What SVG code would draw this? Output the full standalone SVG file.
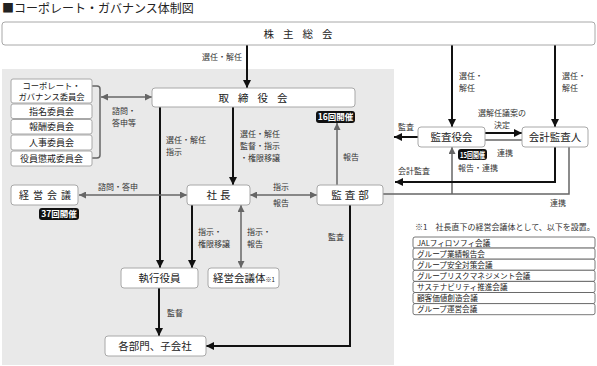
<svg xmlns="http://www.w3.org/2000/svg" width="597" height="366" viewBox="0 0 597 366">
<style>
text{font-family:"Noto Sans CJK JP","Noto Sans",sans-serif;fill:#222}
.box{fill:#fff;stroke:#a8a8a8;stroke-width:1}
.bt{font-size:10.5px;text-anchor:middle}
.ct{font-size:9px;text-anchor:middle}
.lb{font-size:8px;fill:#333}
.bk{fill:none;stroke:#111;stroke-width:2}
.gr{fill:none;stroke:#666;stroke-width:1.5}
.badge{fill:#111}
.bdt{font-size:8.5px;fill:#fff;font-weight:bold;text-anchor:middle}
.row{fill:#fff;stroke:#555;stroke-width:0.8}
.rt{font-size:7.6px;fill:#222}
</style>
<defs>
<marker id="ab" viewBox="0 0 10 10" refX="10" refY="5" markerWidth="8" markerHeight="8" markerUnits="userSpaceOnUse" orient="auto-start-reverse"><path d="M0,0 L10,5 L0,10 z" fill="#111"/></marker>
<marker id="ag" viewBox="0 0 10 10" refX="10" refY="5" markerWidth="7" markerHeight="7" markerUnits="userSpaceOnUse" orient="auto-start-reverse"><path d="M0,0 L10,5 L0,10 z" fill="#666"/></marker>
</defs>
<rect width="597" height="366" fill="#fff"/>
<text x="2" y="13" style="font-size:12px">■コーポレート・ガバナンス体制図</text>
<rect x="2" y="69" width="392" height="296" fill="#e9e9e9"/>

<g id="connectors">
<path class="bk" d="M247,45 V88" marker-end="url(#ab)"/>
<path class="bk" d="M452,45 V127" marker-end="url(#ab)"/>
<path class="bk" d="M555,45 V127" marker-end="url(#ab)"/>
<path class="gr" d="M92,86 H97 Q100,86 100,89 V155 Q100,158 97,158 H92"/>
<path class="gr" d="M101,97 H152" marker-start="url(#ag)" marker-end="url(#ag)"/>
<path class="bk" d="M160,107 V268" marker-end="url(#ab)"/>
<path class="bk" d="M233,107 V185" marker-end="url(#ab)"/>
<path class="gr" d="M337,185 V123" marker-end="url(#ag)"/>
<path class="gr" d="M79,195 H187" marker-start="url(#ag)" marker-end="url(#ag)"/>
<path class="gr" d="M250,195 H317" marker-start="url(#ag)" marker-end="url(#ag)"/>
<path class="bk" d="M192,205 V268" marker-end="url(#ab)"/>
<path class="gr" d="M241,205 V268" marker-start="url(#ag)" marker-end="url(#ag)"/>
<path class="bk" d="M350,205 V346 H206" marker-end="url(#ab)"/>
<path class="bk" d="M159,288 V336" marker-end="url(#ab)"/>
<path class="bk" d="M418,137 H394" marker-end="url(#ab)"/>
<path class="bk" d="M485,133 H522" marker-end="url(#ab)"/>
<path class="gr" d="M485,140 H522"/>
<path class="gr" d="M383,194 H569 V147"/>
<path class="gr" d="M452,194 V147" marker-end="url(#ag)"/>
<path class="bk" d="M555,147 V182 H395" marker-end="url(#ab)"/>
</g>

<g id="labels">
<text class="lb" x="242" y="60" text-anchor="end">選任・解任</text>
<text class="lb" x="459" y="79">選任・</text>
<text class="lb" x="459" y="91">解任</text>
<text class="lb" x="562" y="79">選任・</text>
<text class="lb" x="562" y="91">解任</text>
<text class="lb" x="112" y="114">諮問・</text>
<text class="lb" x="112" y="126">答申等</text>
<text class="lb" x="166" y="143">選任・解任</text>
<text class="lb" x="166" y="155">指示</text>
<text class="lb" x="240" y="137">選任・解任</text>
<text class="lb" x="240" y="149">監督・指示</text>
<text class="lb" x="240" y="161">・権限移譲</text>
<text class="lb" x="343" y="160">報告</text>
<text class="lb" x="98" y="190">諮問・答申</text>
<text class="lb" x="273" y="190">指示</text>
<text class="lb" x="273" y="206">報告</text>
<text class="lb" x="198" y="235">指示・</text>
<text class="lb" x="198" y="247">権限移譲</text>
<text class="lb" x="247" y="235">指示・</text>
<text class="lb" x="247" y="247">報告</text>
<text class="lb" x="328" y="240">監査</text>
<text class="lb" x="167" y="316">監督</text>
<text class="lb" x="398" y="130">監査</text>
<text class="lb" x="502" y="116" text-anchor="middle">選解任議案の</text>
<text class="lb" x="502" y="128" text-anchor="middle">決定</text>
<text class="lb" x="497" y="156">連携</text>
<text class="lb" x="458" y="171">報告・連携</text>
<text class="lb" x="398" y="174">会計監査</text>
<text class="lb" x="550" y="206">連携</text>
</g>

<g id="shareholders"><rect class="box" x="2" y="22" width="593" height="23" rx="3"/><text class="bt" x="302.5" y="38" style="letter-spacing:9px">株主総会</text></g>
<g id="cgc"><rect class="box" x="11" y="79" width="81" height="24" rx="2"/><text class="ct" x="51.5" y="89" style="font-size:8.3px">コーポレート・</text><text class="ct" x="51.5" y="100" style="font-size:8.3px">ガバナンス委員会</text></g>
<g id="nomination"><rect class="box" x="11" y="104" width="81" height="14.5" rx="2"/><text class="ct" x="51.5" y="114.5">指名委員会</text></g>
<g id="remuneration"><rect class="box" x="11" y="119.5" width="81" height="14.5" rx="2"/><text class="ct" x="51.5" y="130">報酬委員会</text></g>
<g id="personnel"><rect class="box" x="11" y="135" width="81" height="15" rx="2"/><text class="ct" x="51.5" y="145.8">人事委員会</text></g>
<g id="discipline"><rect class="box" x="11" y="151" width="81" height="15" rx="2"/><text class="ct" x="51.5" y="161.8">役員懲戒委員会</text></g>
<g id="board"><rect class="box" x="152" y="88" width="203" height="19" rx="3"/><text class="bt" x="257.5" y="101.5" style="letter-spacing:9px">取締役会</text></g>
<g id="badge16"><rect class="badge" x="316" y="111" width="39" height="12" rx="3"/><text class="bdt" x="335.5" y="120.2">16回開催</text></g>
<g id="president"><rect class="box" x="187" y="185" width="63" height="20" rx="3"/><text class="bt" x="220" y="199" style="letter-spacing:3px">社長</text></g>
<g id="audit-dept"><rect class="box" x="317" y="185" width="66" height="20" rx="3"/><text class="bt" x="351.5" y="199" style="letter-spacing:3px">監査部</text></g>
<g id="mgmt-council"><rect class="box" x="11" y="185" width="67" height="20" rx="3"/><text class="bt" x="47" y="199" style="font-size:10px;letter-spacing:4px">経営会議</text></g>
<g id="badge37"><rect class="badge" x="39" y="208" width="40" height="12" rx="3"/><text class="bdt" x="59" y="217.2">37回開催</text></g>
<g id="exec-officers"><rect class="box" x="121" y="268" width="77" height="20" rx="3"/><text class="bt" x="159.5" y="282">執行役員</text></g>
<g id="mgmt-bodies"><rect class="box" x="208" y="268" width="71" height="20" rx="3"/><text x="213" y="282" style="font-size:10.5px">経営会議体<tspan style="font-size:6px">※1</tspan></text></g>
<g id="divisions"><rect class="box" x="105" y="336" width="101" height="20" rx="3"/><text class="bt" x="155" y="350">各部門、子会社</text></g>
<g id="asb"><rect class="box" x="418" y="127" width="67" height="20" rx="3"/><text class="bt" x="451.5" y="141">監査役会</text></g>
<g id="badge15"><rect class="badge" x="458" y="149" width="29" height="11" rx="3"/><text class="bdt" x="472.5" y="157.6" style="font-size:7.5px" textLength="25" lengthAdjust="spacingAndGlyphs">15回開催</text></g>
<g id="accounting-auditor"><rect class="box" x="522" y="127" width="66" height="20" rx="3"/><text class="bt" x="555" y="141">会計監査人</text></g>

<g id="note">
<text x="415" y="230" style="font-size:8px;fill:#333">※1　社長直下の経営会議体として、以下を設置。</text>
<rect class="row" x="413" y="237" width="182" height="11.1" rx="2"/>
<rect class="row" x="413" y="248.1" width="182" height="11.1" rx="2"/>
<rect class="row" x="413" y="259.2" width="182" height="11.1" rx="2"/>
<rect class="row" x="413" y="270.3" width="182" height="11.1" rx="2"/>
<rect class="row" x="413" y="281.4" width="182" height="11.1" rx="2"/>
<rect class="row" x="413" y="292.5" width="182" height="11.1" rx="2"/>
<rect class="row" x="413" y="303.6" width="182" height="11.1" rx="2"/>
<text class="rt" x="417" y="245.5">JALフィロソフィ会議</text>
<text class="rt" x="417" y="256.6">グループ業績報告会</text>
<text class="rt" x="417" y="267.7">グループ安全対策会議</text>
<text class="rt" x="417" y="278.8">グループリスクマネジメント会議</text>
<text class="rt" x="417" y="289.9">サステナビリティ推進会議</text>
<text class="rt" x="417" y="301">顧客価値創造会議</text>
<text class="rt" x="417" y="312.1">グループ運営会議</text>
</g>
</svg>
